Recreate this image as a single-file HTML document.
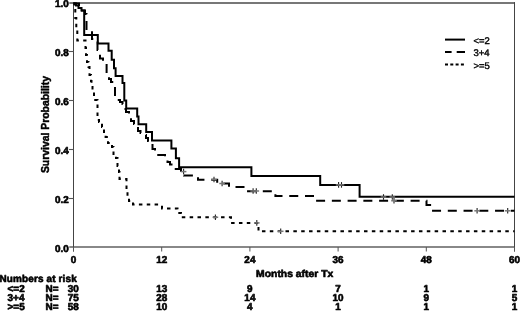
<!DOCTYPE html>
<html><head><meta charset="utf-8"><style>
html,body{margin:0;padding:0;background:#fff;width:520px;height:311px;overflow:hidden}
svg{display:block;will-change:transform}
text{font-family:"Liberation Sans",sans-serif;font-size:10px;fill:#000}
.b{font-weight:bold;stroke:#000;stroke-width:0.6px;stroke-linejoin:round}
.r{font-weight:normal;stroke:#000;stroke-width:0.4px;stroke-linejoin:round}
.t{font-size:10.4px}
</style></head><body>
<svg width="520" height="311" viewBox="0 0 520 311">
<line x1="69.3" y1="3" x2="515" y2="3" stroke="#4a4a4a" stroke-width="1.6"/>
<line x1="69.3" y1="247" x2="515" y2="247" stroke="#606060" stroke-width="1.6"/>
<line x1="73.5" y1="2.2" x2="73.5" y2="251.5" stroke="#444" stroke-width="1"/>
<line x1="514.5" y1="2.2" x2="514.5" y2="251.5" stroke="#444" stroke-width="1"/>
<text transform="translate(68.80,7.10) skewX(0.5)" text-anchor="end" class="b">1.0</text>
<line x1="69" y1="51.5" x2="73.5" y2="51.5" stroke="#555" stroke-width="1.1"/>
<text transform="translate(68.80,56.30) skewX(0.5)" text-anchor="end" class="b">0.8</text>
<line x1="69" y1="100.5" x2="73.5" y2="100.5" stroke="#555" stroke-width="1.1"/>
<text transform="translate(68.80,105.10) skewX(0.5)" text-anchor="end" class="b">0.6</text>
<line x1="69" y1="149.5" x2="73.5" y2="149.5" stroke="#555" stroke-width="1.1"/>
<text transform="translate(68.80,153.90) skewX(0.5)" text-anchor="end" class="b">0.4</text>
<line x1="69" y1="198.5" x2="73.5" y2="198.5" stroke="#555" stroke-width="1.1"/>
<text transform="translate(68.80,202.70) skewX(0.5)" text-anchor="end" class="b">0.2</text>
<text transform="translate(68.80,251.50) skewX(0.5)" text-anchor="end" class="b">0.0</text>
<line x1="73.5" y1="247" x2="73.5" y2="251.5" stroke="#555" stroke-width="1"/>
<text transform="translate(73.50,263.40) skewX(0.5)" text-anchor="middle" class="b">0</text>
<line x1="161.7" y1="247" x2="161.7" y2="251.5" stroke="#555" stroke-width="1"/>
<text transform="translate(161.70,263.40) skewX(0.5)" text-anchor="middle" class="b">12</text>
<line x1="249.9" y1="247" x2="249.9" y2="251.5" stroke="#555" stroke-width="1"/>
<text transform="translate(249.90,263.40) skewX(0.5)" text-anchor="middle" class="b">24</text>
<line x1="338.1" y1="247" x2="338.1" y2="251.5" stroke="#555" stroke-width="1"/>
<text transform="translate(338.10,263.40) skewX(0.5)" text-anchor="middle" class="b">36</text>
<line x1="426.3" y1="247" x2="426.3" y2="251.5" stroke="#555" stroke-width="1"/>
<text transform="translate(426.30,263.40) skewX(0.5)" text-anchor="middle" class="b">48</text>
<line x1="514.5" y1="247" x2="514.5" y2="251.5" stroke="#555" stroke-width="1"/>
<text transform="translate(514.50,263.40) skewX(0.5)" text-anchor="middle" class="b">60</text>
<polyline points="73.5,3.5 76,3.5 76,5.5 78.5,5.5 78.5,8 81.5,8 81.5,10.5 84.2,10.5 84.2,35 97.8,35 97.8,43.5 108.5,43.5 108.5,50.8 111.7,50.8 111.7,59.8 114,59.8 114,68.2 115.6,68.2 115.6,75.9 122.5,75.9 122.5,83 124.3,83 124.3,100.5 126.2,100.5 126.2,108.5 137.2,108.5 137.2,116.6 138.5,116.6 138.5,124.3 146.2,124.3 146.2,132 152,132 152,140.6 171.4,140.6 171.4,148.5 175.9,148.5 175.9,158.2 179.1,158.2 179.1,167.3 251.4,167.3 251.4,175.9 320.2,175.9 320.2,184.9 359.6,184.9 359.6,196.8 514.5,196.8" fill="none" stroke="#000" stroke-width="2"/>
<polyline points="73.5,3.5 79,3.5 79,7 82,7 82,10.5 85,10.5 85,14 86.5,14 86.5,29 92,29 92,39 97.5,39 97.5,50 100,50 100,58.5 103,58.5 103,63 106.6,63 106.6,76 109,76 109,79 111,79 111,82 113.5,82 113.5,86 115,86 115,95 117,95 117,100 120,100 120,102 122.5,102 122.5,104 124,104 124,109 126,109 126,112 129,112 129,118 131,118 131,121 134,121 134,124 136,124 136,128 138,128 138,131 140.5,131 140.5,133 144,133 144,135 146,135 146,138 148,138 148,141 152.5,141 152.5,149 155,149 155,155 165,155 165,158 167.5,158 167.5,162 170,162 170,164.5 173,164.5 173,169 181,169 181,172.4 184,172.4 184,175.6 198,175.6 198,179.8 217.2,179.8 217.2,183.5 229,183.5 229,187 245,187 245,191.2 275.4,191.2" fill="none" stroke="#000" stroke-width="2" stroke-dasharray="9 6.75" stroke-dashoffset="1.00"/>
<polyline points="275.4,191.2 275.4,196.1 315,196.1 315,200.75 426.5,200.75 426.5,205 432,205 432,210.8 514.5,210.8" fill="none" stroke="#000" stroke-width="2" stroke-dasharray="9 6.75" stroke-dashoffset="12.75"/>
<polyline points="73.5,3.5 74.5,3.5 74.5,9 75.3,9 75.3,18 76.3,18 76.3,28 77.3,28 77.3,40.4 85.5,40.4 85.5,48 86,48 86,55 87,55 87,62 88.5,62 88.5,67 89.5,67 89.5,75 91,75 91,81 91.5,81 91.5,87 92.5,87 92.5,92 94,92 94,100 97.5,100 97.5,120 99,120 99,122 102,122 102,127 104,127 104,132 105.6,132 105.6,137 108,137 108,143 112,143 112,147 113.5,147 113.5,155 116,155 116,158 117.5,158 117.5,166 119,166 119,172 119.5,172 119.5,179 126.5,179 126.5,190 127.5,190 127.5,197 129,197 129,201 133,201 133,204.5 162,204.5" fill="none" stroke="#000" stroke-width="2" stroke-dasharray="3.5 4.35" stroke-dashoffset="0.50"/>
<polyline points="162,204.5 162,208.5 177.5,208.5 177.5,212.9 181,212.9 181,217.25 231,217.25 231,222.9 258.5,222.9 258.5,231.3 514.5,231.3" fill="none" stroke="#000" stroke-width="2" stroke-dasharray="3.5 4.35" stroke-dashoffset="6.70"/>
<line x1="338.6" y1="182.1" x2="338.6" y2="187.70000000000002" stroke="#222" stroke-width="1.1"/>
<line x1="335.8" y1="184.9" x2="341.40000000000003" y2="184.9" stroke="#777" stroke-width="1.5"/>
<line x1="341.5" y1="182.1" x2="341.5" y2="187.70000000000002" stroke="#222" stroke-width="1.1"/>
<line x1="338.7" y1="184.9" x2="344.3" y2="184.9" stroke="#777" stroke-width="1.5"/>
<line x1="383.5" y1="194.2" x2="383.5" y2="199.8" stroke="#222" stroke-width="1.1"/>
<line x1="380.7" y1="197" x2="386.3" y2="197" stroke="#777" stroke-width="1.5"/>
<line x1="392.3" y1="194.2" x2="392.3" y2="199.8" stroke="#222" stroke-width="1.1"/>
<line x1="389.5" y1="197" x2="395.1" y2="197" stroke="#777" stroke-width="1.5"/>
<line x1="183.6" y1="168.79999999999998" x2="183.6" y2="174.4" stroke="#222" stroke-width="1.1"/>
<line x1="180.79999999999998" y1="171.6" x2="186.4" y2="171.6" stroke="#777" stroke-width="1.5"/>
<line x1="214" y1="176.7" x2="214" y2="182.3" stroke="#222" stroke-width="1.1"/>
<line x1="211.2" y1="179.5" x2="216.8" y2="179.5" stroke="#777" stroke-width="1.5"/>
<line x1="222.1" y1="180.7" x2="222.1" y2="186.3" stroke="#222" stroke-width="1.1"/>
<line x1="219.29999999999998" y1="183.5" x2="224.9" y2="183.5" stroke="#777" stroke-width="1.5"/>
<line x1="253.1" y1="188.2" x2="253.1" y2="193.8" stroke="#222" stroke-width="1.1"/>
<line x1="250.29999999999998" y1="191" x2="255.9" y2="191" stroke="#777" stroke-width="1.5"/>
<line x1="256.3" y1="188.2" x2="256.3" y2="193.8" stroke="#222" stroke-width="1.1"/>
<line x1="253.5" y1="191" x2="259.1" y2="191" stroke="#777" stroke-width="1.5"/>
<line x1="394" y1="197.95" x2="394" y2="203.55" stroke="#222" stroke-width="1.1"/>
<line x1="391.2" y1="200.75" x2="396.8" y2="200.75" stroke="#777" stroke-width="1.5"/>
<line x1="477.1" y1="208.0" x2="477.1" y2="213.60000000000002" stroke="#222" stroke-width="1.1"/>
<line x1="474.3" y1="210.8" x2="479.90000000000003" y2="210.8" stroke="#777" stroke-width="1.5"/>
<line x1="507.7" y1="208.0" x2="507.7" y2="213.60000000000002" stroke="#222" stroke-width="1.1"/>
<line x1="504.9" y1="210.8" x2="510.5" y2="210.8" stroke="#777" stroke-width="1.5"/>
<line x1="215.4" y1="214.45" x2="215.4" y2="220.05" stroke="#222" stroke-width="1.1"/>
<line x1="212.6" y1="217.25" x2="218.20000000000002" y2="217.25" stroke="#777" stroke-width="1.5"/>
<line x1="256.8" y1="220.1" x2="256.8" y2="225.70000000000002" stroke="#222" stroke-width="1.1"/>
<line x1="254.0" y1="222.9" x2="259.6" y2="222.9" stroke="#777" stroke-width="1.5"/>
<line x1="280.7" y1="228.5" x2="280.7" y2="234.10000000000002" stroke="#222" stroke-width="1.1"/>
<line x1="277.9" y1="231.3" x2="283.5" y2="231.3" stroke="#777" stroke-width="1.5"/>
<line x1="445" y1="39.6" x2="465" y2="39.6" stroke="#000" stroke-width="2"/>
<line x1="445" y1="52.1" x2="465" y2="52.1" stroke="#000" stroke-width="2" stroke-dasharray="6.6 5.1 8.3 5"/>
<line x1="445" y1="64.4" x2="465" y2="64.4" stroke="#000" stroke-width="2" stroke-dasharray="3 2.3"/>
<text transform="translate(473.40,44.10) skewX(0.5)" class="r" style="font-size:9.6px">&lt;=2</text>
<text transform="translate(473.40,56.30) skewX(0.5)" class="r" style="font-size:9.6px">3+4</text>
<text transform="translate(473.40,68.50) skewX(0.5)" class="r" style="font-size:9.6px">&gt;=5</text>
<text transform="translate(49.3,124.6) rotate(-90)" text-anchor="middle" class="b t" style="stroke-width:0.45px">Survival Probability</text>
<text transform="translate(294.70,277.40) skewX(0.5) scale(1.04,1)" text-anchor="middle" class="b">Months after Tx</text>
<text transform="translate(-0.50,282.20) skewX(0.5)" class="b" letter-spacing="0.12">Numbers at risk</text>
<text transform="translate(7.50,291.60) skewX(0.5)" class="b">&lt;=2</text>
<text transform="translate(45.50,291.60) skewX(0.5)" class="b">N=</text>
<text transform="translate(78.90,291.60) skewX(0.5)" text-anchor="end" class="b">30</text>
<text transform="translate(161.70,291.60) skewX(0.5)" text-anchor="middle" class="b">13</text>
<text transform="translate(249.90,291.60) skewX(0.5)" text-anchor="middle" class="b">9</text>
<text transform="translate(338.10,291.60) skewX(0.5)" text-anchor="middle" class="b">7</text>
<text transform="translate(426.30,291.60) skewX(0.5)" text-anchor="middle" class="b">1</text>
<text transform="translate(514.50,291.60) skewX(0.5)" text-anchor="middle" class="b">1</text>
<text transform="translate(7.50,300.85) skewX(0.5)" class="b">3+4</text>
<text transform="translate(45.50,300.85) skewX(0.5)" class="b">N=</text>
<text transform="translate(78.90,300.85) skewX(0.5)" text-anchor="end" class="b">75</text>
<text transform="translate(161.70,300.85) skewX(0.5)" text-anchor="middle" class="b">28</text>
<text transform="translate(249.90,300.85) skewX(0.5)" text-anchor="middle" class="b">14</text>
<text transform="translate(338.10,300.85) skewX(0.5)" text-anchor="middle" class="b">10</text>
<text transform="translate(426.30,300.85) skewX(0.5)" text-anchor="middle" class="b">9</text>
<text transform="translate(514.50,300.85) skewX(0.5)" text-anchor="middle" class="b">5</text>
<text transform="translate(7.50,310.10) skewX(0.5)" class="b">&gt;=5</text>
<text transform="translate(45.50,310.10) skewX(0.5)" class="b">N=</text>
<text transform="translate(78.90,310.10) skewX(0.5)" text-anchor="end" class="b">58</text>
<text transform="translate(161.70,310.10) skewX(0.5)" text-anchor="middle" class="b">10</text>
<text transform="translate(249.90,310.10) skewX(0.5)" text-anchor="middle" class="b">4</text>
<text transform="translate(338.10,310.10) skewX(0.5)" text-anchor="middle" class="b">1</text>
<text transform="translate(426.30,310.10) skewX(0.5)" text-anchor="middle" class="b">1</text>
<text transform="translate(514.50,310.10) skewX(0.5)" text-anchor="middle" class="b">1</text>
</svg>
</body></html>
